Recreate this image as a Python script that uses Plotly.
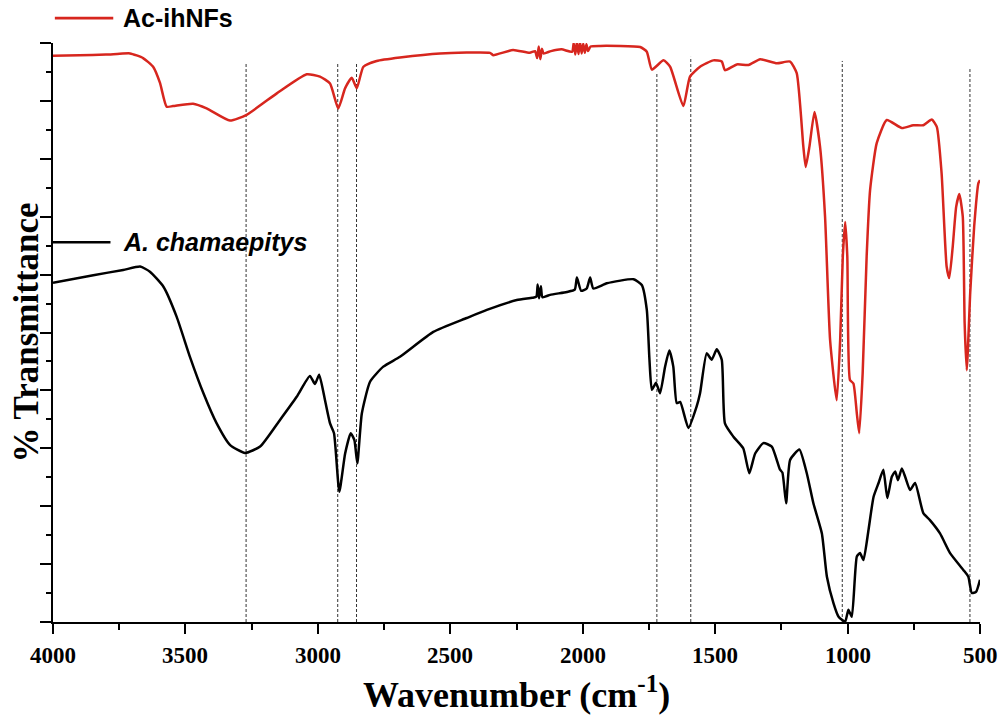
import plotly.graph_objects as go

# FTIR spectra (transmittance in arbitrary % units, offset)
ac_wn = [4000, 3900, 3800, 3758, 3709, 3660, 3622, 3596, 3571, 3547, 3471, 3420, 3332, 3269,
         3155, 3042, 2992, 2954, 2923, 2897, 2872, 2853, 2828, 2778, 2690, 2539,
         2350, 2338, 2263, 2200, 2180, 2172, 2166, 2160, 2154, 2148, 2120, 2080,
         2040, 2034, 2028, 2022, 2016, 2010, 2004, 1998, 1992, 1986, 1980, 1970,
         1934, 1783, 1758, 1739, 1695, 1670, 1620, 1595, 1557, 1507, 1475, 1463,
         1418, 1374, 1330, 1267, 1217, 1192, 1167, 1158, 1144, 1125, 1104, 1085,
         1066, 1041, 1028, 1018, 1009, 1001, 991, 978, 965, 956, 943, 928, 915,
         890, 852, 795, 752, 714, 682, 663, 645, 626, 616, 603, 590, 578, 565,
         558, 550, 537, 522, 506, 500]
ac_t = [97.8, 97.9, 98.0, 98.1, 98.2, 97.4, 95.9, 93.1, 89.0, 89.1, 89.5, 88.7, 86.6, 87.6,
        91.3, 94.6, 94.2, 93.0, 88.7, 92.2, 94.0, 92.2, 95.9, 96.9, 97.5, 98.2,
        98.3, 97.9, 98.8, 98.3, 98.6, 97.4, 99.4, 97.2, 99.0, 98.2, 98.6, 98.9,
        98.5, 100.0, 98.0, 100.2, 98.1, 100.1, 98.2, 99.9, 98.3, 99.8, 98.6, 99.4,
        99.5, 99.3, 98.5, 95.4, 97.0, 95.9, 89.1, 94.2, 95.9, 97.0, 96.8, 95.3,
        96.3, 96.2, 97.2, 96.5, 96.8, 94.8, 82.1, 78.6, 82.1, 88.1, 82.1, 70.0,
        48.7, 38.3, 48.7, 63.1, 69.1, 63.1, 41.8, 41.2, 36.0, 32.6, 43.0, 63.1, 74.6,
        82.7, 86.7, 85.3, 85.8, 85.8, 86.8, 85.5, 77.5, 61.4, 59.4, 64.8, 71.7, 73.9, 70.0,
        51.6, 43.5, 56.8, 68.3, 75.8, 76.3]

ach_wn = [4000, 3848, 3735, 3671, 3634, 3583, 3533, 3483, 3432, 3382, 3332, 3275,
          3218, 3143, 3080, 3030, 3011, 2995, 2973, 2954, 2939, 2919, 2897, 2876,
          2862, 2851, 2834, 2803, 2753, 2690, 2564, 2438, 2362, 2249, 2190, 2175,
          2170, 2165, 2158, 2152, 2123, 2060, 2030, 2022, 2006, 1985, 1972, 1960,
          1909, 1808, 1777, 1758, 1748, 1739, 1723, 1708, 1689, 1673, 1658, 1645,
          1632, 1601, 1570, 1557, 1532, 1513, 1494, 1475, 1463, 1431, 1394, 1371,
          1349, 1318, 1286, 1255, 1246, 1232, 1217, 1182, 1154, 1129, 1097, 1078,
          1053, 1034, 1009, 997, 984, 965, 953, 940, 921, 902, 883, 865, 850, 833,
          820, 810, 795, 782, 764, 745, 714, 689, 651, 613, 563, 544, 531, 515, 500]
ach_t = [58.6, 59.9, 60.8, 61.4, 60.5, 57.9, 52.7, 45.8, 39.5, 34.3, 30.6, 29.2,
         30.3, 34.9, 38.9, 42.5, 41.1, 42.7, 38.3, 34.3, 32.6, 22.5, 29.1, 32.6,
         31.4, 27.4, 36.0, 41.5, 44.1, 45.8, 50.1, 52.5, 53.9, 55.6, 56.0, 56.2,
         58.3, 55.9, 58.0, 56.1, 56.5, 57.0, 57.4, 59.5, 57.2, 57.6, 59.5, 57.6,
         58.5, 59.2, 58.2, 53.9, 45.3, 40.1, 41.3, 39.5, 44.1, 46.9, 44.1, 37.8,
         38.0, 33.5, 37.2, 39.5, 46.4, 45.3, 47.1, 45.3, 34.3, 32.0, 30.0, 25.7,
         29.1, 30.9, 30.3, 26.3, 25.8, 20.5, 28.0, 29.8, 25.7, 20.5, 15.3, 7.8,
         3.2, 0.9, 0.05, 2.1, 0.9, 11.3, 11.9, 10.7, 15.9, 21.6, 24.0, 26.3, 21.4, 25.1,
         26.0, 24.5, 26.5, 25.0, 22.8, 24.0, 18.8, 17.6, 15.3, 11.9, 9.0, 7.8, 5.0, 5.2, 7.3]

# marker lines (wavenumber, top of dashed line)
guide_wn = [3271, 2925, 2854, 1720, 1592, 1020, 538]
guide_top = [96.7, 96.5, 96.5, 95.0, 97.6, 96.9, 95.5]

x_ticks = [4000, 3500, 3000, 2500, 2000, 1500, 1000, 500]

RED = "#d7261e"
SERIF = "Liberation Serif"
SANS = "Liberation Sans"

fig = go.Figure()
fig.add_trace(go.Scatter(x=ach_wn, y=ach_t, mode="lines",
                         line=dict(color="black", width=2.5, shape="spline", smoothing=0.5),
                         name="A. chamaepitys", showlegend=False))
fig.add_trace(go.Scatter(x=ac_wn, y=ac_t, mode="lines",
                         line=dict(color=RED, width=2.5, shape="spline", smoothing=0.5),
                         name="Ac-ihNFs", showlegend=False))

for w, top in zip(guide_wn, guide_top):
    fig.add_shape(type="line", xref="x", yref="y", x0=w, x1=w, y0=0, y1=top,
                  line=dict(color="#333333", width=1, dash="3px,2px"), layer="below")

# x tick labels drawn as text pinned to the axis values (serif bold, like the original)
for v in x_ticks:
    fig.add_annotation(x=v, y=-0.057, xref="x", yref="paper", text=f"<b>{v}</b>",
                       showarrow=False, xanchor="center", yanchor="middle",
                       font=dict(family=SERIF, size=23, color="black"))

# hand-placed legend entries
fig.add_shape(type="line", xref="paper", yref="paper", x0=0.002, x1=0.065, y0=1.043, y1=1.043,
              line=dict(color=RED, width=2.6))
fig.add_annotation(x=0.073, y=1.043, xref="paper", yref="paper", text="<b>Ac-ihNFs</b>",
                   showarrow=False, xanchor="left", yanchor="middle",
                   font=dict(family=SANS, size=25, color="black"))
fig.add_shape(type="line", xref="paper", yref="paper", x0=0.0, x1=0.062, y0=0.656, y1=0.656,
              line=dict(color="black", width=2.6))
fig.add_annotation(x=0.073, y=0.656, xref="paper", yref="paper", text="<b><i>A. chamaepitys</i></b>",
                   showarrow=False, xanchor="left", yanchor="middle",
                   font=dict(family=SANS, size=25, color="black"))

# axis titles
fig.add_annotation(x=0.5, y=-0.122, xref="paper", yref="paper",
                   text="<b>Wavenumber (cm<sup>-1</sup>)</b>", showarrow=False,
                   xanchor="center", yanchor="middle",
                   font=dict(family=SERIF, size=36, color="black"))
fig.add_annotation(x=-0.029, y=0.5, xref="paper", yref="paper",
                   text="<b>% Transmittance</b>", showarrow=False, textangle=-90,
                   xanchor="center", yanchor="middle",
                   font=dict(family=SERIF, size=35, color="black"))

fig.update_layout(
    width=1001, height=717,
    margin=dict(l=53, r=21, t=43, b=95),
    font=dict(family=SERIF, color="black"),
    plot_bgcolor="white", paper_bgcolor="white",
    xaxis=dict(
        range=[4000, 500], automargin=False,
        tickmode="array", tickvals=x_ticks, showticklabels=False,
        showline=True, linecolor="black", linewidth=2, mirror=False,
        showgrid=False, zeroline=False,
        ticks="outside", ticklen=10, tickwidth=2, tickcolor="black",
        minor=dict(dtick=250, tick0=500, ticks="outside", ticklen=6, tickwidth=2, tickcolor="black"),
    ),
    yaxis=dict(
        range=[0, 100], dtick=10, tick0=0, automargin=False,
        showline=True, linecolor="black", linewidth=2,
        showgrid=False, zeroline=False, showticklabels=False,
        ticks="outside", ticklen=11, tickwidth=2, tickcolor="black",
        minor=dict(dtick=5, tick0=0, ticks="outside", ticklen=5, tickwidth=2, tickcolor="black"),
    ),
)

# drop the default page margin so the figure sits at the window origin
fig.write_html("out.html", config={"displayModeBar": False},
               post_script="document.body.style.margin='0px';")
